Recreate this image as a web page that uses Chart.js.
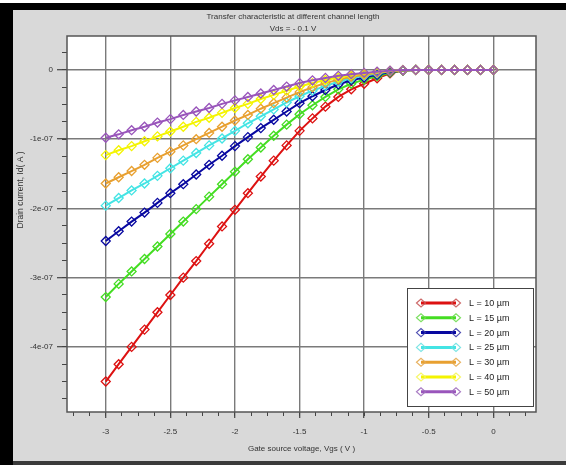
<!DOCTYPE html>
<html>
<head>
<meta charset="utf-8">
<script src="https://cdn.jsdelivr.net/npm/chart.js@4/dist/chart.umd.min.js"></script>
<style>
html,body{margin:0;padding:0;background:#fff;}
#c{display:block;}
</style>
</head>
<body>
<canvas id="c" width="566" height="465"></canvas>
<script>
// ---------- data ----------
const vgs = [-3.0,-2.9,-2.8,-2.7,-2.6,-2.5,-2.4,-2.3,-2.2,-2.1,-2.0,-1.9,-1.8,-1.7,-1.6,-1.5,-1.4,-1.3,-1.2,-1.1,-1.0,-0.9,-0.8,-0.7,-0.6,-0.5,-0.4,-0.3,-0.2,-0.1,0.0];

const idL10 = [-4.50e-7,-4.25e-7,-4.00e-7,-3.75e-7,-3.50e-7,-3.25e-7,-3.00e-7,-2.76e-7,-2.51e-7,-2.26e-7,-2.02e-7,-1.78e-7,-1.54e-7,-1.31e-7,-1.09e-7,-0.88e-7,-0.70e-7,-0.53e-7,-0.39e-7,-0.28e-7,-0.20e-7,-0.12e-7,-0.05e-7,-0.01e-7,0,0,0,0,0,0,0];
const idL15 = [-3.28e-7,-3.09e-7,-2.91e-7,-2.73e-7,-2.55e-7,-2.37e-7,-2.19e-7,-2.01e-7,-1.83e-7,-1.65e-7,-1.47e-7,-1.29e-7,-1.12e-7,-0.95e-7,-0.79e-7,-0.64e-7,-0.51e-7,-0.39e-7,-0.28e-7,-0.20e-7,-0.14e-7,-0.09e-7,-0.04e-7,-0.01e-7,0,0,0,0,0,0,0];
const idL20 = [-2.47e-7,-2.33e-7,-2.19e-7,-2.06e-7,-1.92e-7,-1.78e-7,-1.65e-7,-1.51e-7,-1.37e-7,-1.24e-7,-1.10e-7,-0.97e-7,-0.84e-7,-0.72e-7,-0.60e-7,-0.48e-7,-0.38e-7,-0.29e-7,-0.21e-7,-0.15e-7,-0.11e-7,-0.07e-7,-0.03e-7,-0.01e-7,0,0,0,0,0,0,0];
const idL25 = [-1.96e-7,-1.85e-7,-1.74e-7,-1.64e-7,-1.53e-7,-1.42e-7,-1.31e-7,-1.20e-7,-1.09e-7,-0.99e-7,-0.88e-7,-0.77e-7,-0.67e-7,-0.57e-7,-0.47e-7,-0.38e-7,-0.30e-7,-0.23e-7,-0.17e-7,-0.12e-7,-0.085e-7,-0.05e-7,-0.02e-7,-0.004e-7,0,0,0,0,0,0,0];
const idL30 = [-1.64e-7,-1.55e-7,-1.46e-7,-1.37e-7,-1.27e-7,-1.18e-7,-1.09e-7,-1.00e-7,-0.91e-7,-0.82e-7,-0.73e-7,-0.65e-7,-0.56e-7,-0.48e-7,-0.40e-7,-0.32e-7,-0.25e-7,-0.19e-7,-0.14e-7,-0.10e-7,-0.07e-7,-0.04e-7,-0.02e-7,-0.004e-7,0,0,0,0,0,0,0];
const idL40 = [-1.23e-7,-1.16e-7,-1.10e-7,-1.03e-7,-0.96e-7,-0.89e-7,-0.82e-7,-0.75e-7,-0.69e-7,-0.62e-7,-0.55e-7,-0.49e-7,-0.42e-7,-0.36e-7,-0.30e-7,-0.24e-7,-0.19e-7,-0.145e-7,-0.11e-7,-0.077e-7,-0.053e-7,-0.033e-7,-0.014e-7,-0.003e-7,0,0,0,0,0,0,0];
const idL50 = [-0.98e-7,-0.93e-7,-0.87e-7,-0.82e-7,-0.76e-7,-0.71e-7,-0.65e-7,-0.60e-7,-0.55e-7,-0.49e-7,-0.44e-7,-0.39e-7,-0.34e-7,-0.29e-7,-0.24e-7,-0.19e-7,-0.15e-7,-0.115e-7,-0.085e-7,-0.061e-7,-0.043e-7,-0.026e-7,-0.011e-7,-0.002e-7,0,0,0,0,0,0,0];

const seriesLabels = ['L = 10 µm','L = 15 µm','L = 20 µm','L = 25 µm','L = 30 µm','L = 40 µm','L = 50 µm'];
const seriesValues = [idL10, idL15, idL20, idL25, idL30, idL40, idL50];

const xTickValues = [-3,-2.5,-2,-1.5,-1,-0.5,0];
const xTickLabels = ['-3','-2.5','-2','-1.5','-1','-0.5','0'];
const yTickValues = [-4e-7,-3e-7,-2e-7,-1e-7,0];
const yTickLabels = ['-4e-07','-3e-07','-2e-07','-1e-07','0'];

const titleLines = ['Transfer characteristic at different channel length','Vds = - 0.1 V'];
const xTitle = 'Gate source voltage, Vgs ( V )';
const yTitle = 'Drain current, Id( A )';

// ---------- styles ----------
const colors = ['#dd1111','#44dd22','#0808a0','#44e4e4','#e8a030','#f4f400','#9955bb'];
const legendMarkColors = ['rgba(200,90,90,0.9)','rgba(110,220,80,0.9)','rgba(60,60,170,0.9)','rgba(110,225,225,0.9)','rgba(230,170,80,0.9)','rgba(245,245,90,0.9)','rgba(160,110,190,0.9)'];
const FONT = '"Liberation Sans", Arial, sans-serif';

Chart.defaults.font.family = FONT;
Chart.defaults.font.size = 8;
Chart.defaults.color = '#333';

const datasets = seriesValues.map((vals, i) => ({
  label: seriesLabels[i],
  data: vgs.map((x, j) => ({x: x, y: vals[j]})),
  borderColor: colors[i],
  backgroundColor: 'rgba(0,0,0,0)',
  borderWidth: 2,
  pointStyle: 'rectRot',
  pointRadius: 4.5,
  pointBorderWidth: 1.3,
  pointBorderColor: colors[i],
  pointBackgroundColor: 'rgba(0,0,0,0)',
  tension: 0,
  order: seriesValues.length - 1 - i
}));

const decor = {
  id: 'decor',
  beforeDraw(chart) {
    const {ctx, chartArea: a, width, height} = chart;
    ctx.save();
    ctx.fillStyle = '#ffffff';
    ctx.fillRect(0, 0, width, height);
    ctx.fillStyle = '#000000';
    ctx.fillRect(0, 3, width, 7);
    ctx.fillRect(0, 3, 13, height - 3);
    ctx.fillStyle = '#d9d9d9';
    ctx.fillRect(13, 10, width - 13, height - 10);
    ctx.fillStyle = '#3a3a3a';
    ctx.fillRect(13, 461, width - 13, 4);
    ctx.fillStyle = '#ffffff';
    ctx.fillRect(a.left, a.top, a.right - a.left, a.bottom - a.top);
    // titles
    ctx.fillStyle = '#333';
    ctx.textAlign = 'center';
    ctx.textBaseline = 'middle';
    ctx.font = '8px ' + FONT;
    ctx.fillText(titleLines[0], 293, 17);
    ctx.fillText(titleLines[1], 293, 29);
    // y title
    ctx.translate(21, 190);
    ctx.rotate(-Math.PI / 2);
    ctx.font = '8.5px ' + FONT;
    ctx.fillText(yTitle, 0, 0);
    ctx.restore();
  },
  afterDatasetsDraw(chart) {
    const {ctx, chartArea: a} = chart;
    ctx.save();
    ctx.strokeStyle = '#555';
    ctx.lineWidth = 1.5;
    ctx.strokeRect(a.left, a.top, a.right - a.left, a.bottom - a.top);
    // legend
    const bx = 407, by = 288, bw = 126, bh = 118;
    ctx.fillStyle = '#ffffff';
    ctx.fillRect(bx, by, bw, bh);
    ctx.strokeStyle = '#444';
    ctx.lineWidth = 1;
    ctx.strokeRect(bx + 0.5, by + 0.5, bw, bh);
    ctx.font = '9px ' + FONT;
    ctx.textAlign = 'left';
    ctx.textBaseline = 'middle';
    chart.data.datasets.forEach((ds, i) => {
      const y = 303 + i * 14.8;
      ctx.strokeStyle = ds.borderColor;
      ctx.lineWidth = 3;
      ctx.beginPath();
      ctx.moveTo(421, y);
      ctx.lineTo(456, y);
      ctx.stroke();
      [421, 456].forEach(px => {
        ctx.strokeStyle = legendMarkColors[i];
        ctx.lineWidth = 1.2;
        ctx.beginPath();
        ctx.moveTo(px - 4.5, y);
        ctx.lineTo(px, y - 4);
        ctx.lineTo(px + 4.5, y);
        ctx.lineTo(px, y + 4);
        ctx.closePath();
        ctx.stroke();
      });
      ctx.fillStyle = '#222';
      ctx.fillText(ds.label, 469, y + 0.5);
    });
    ctx.restore();
  }
};

new Chart(document.getElementById('c'), {
  type: 'line',
  data: { datasets },
  options: {
    responsive: false,
    animation: false,
    devicePixelRatio: 1,
    layout: { padding: { left: 13, top: 36, right: 30, bottom: 0 } },
    plugins: { legend: { display: false }, title: { display: false }, tooltip: { enabled: false } },
    scales: {
      x: {
        type: 'linear', position: 'bottom', weight: 1,
        min: -3.3, max: 0.33,
        afterFit: s => { s.height = 53; },
        afterBuildTicks: s => { s.ticks = xTickValues.map(v => ({value: v})); },
        ticks: { autoSkip: false, maxRotation: 0, padding: 9, color: '#333',
                 callback: (v, i) => xTickLabels[i] },
        grid: { color: '#7a7a7a', lineWidth: 1.4, tickLength: 6, tickColor: '#444', tickWidth: 1.2 },
        border: { display: false },
        title: { display: true, text: xTitle, color: '#333', font: { size: 8 }, padding: { top: 0, bottom: 11.5 } }
      },
      xMinor: {
        type: 'linear', position: 'bottom', weight: 0,
        min: -3.3, max: 0.33,
        afterFit: s => { s.height = 0; },
        afterBuildTicks: s => {
          const t = [];
          for (let k = -26; k <= 2; k++) t.push({value: k * 0.125});
          s.ticks = t;
        },
        ticks: { display: false },
        grid: { drawOnChartArea: false, tickLength: 4, tickColor: '#444', tickWidth: 1 },
        border: { display: false }
      },
      y: {
        type: 'linear', position: 'left', weight: 1,
        min: -4.94e-7, max: 0.49e-7,
        afterFit: s => { s.width = 54; },
        afterBuildTicks: s => { s.ticks = yTickValues.map(v => ({value: v})); },
        ticks: { padding: 4, color: '#333', callback: (v, i) => yTickLabels[i] },
        grid: { color: '#7a7a7a', lineWidth: 1.4, tickLength: 10, tickColor: '#444', tickWidth: 1.2 },
        border: { display: false }
      },
      yMinor: {
        type: 'linear', position: 'left', weight: 0,
        min: -4.94e-7, max: 0.49e-7,
        afterFit: s => { s.width = 0; },
        afterBuildTicks: s => {
          const t = [];
          for (let k = -19; k <= 1; k++) t.push({value: k * 0.25e-7});
          s.ticks = t;
        },
        ticks: { display: false },
        grid: { drawOnChartArea: false, tickLength: 5, tickColor: '#444', tickWidth: 1 },
        border: { display: false }
      }
    }
  },
  plugins: [decor]
});
</script>
</body>
</html>
